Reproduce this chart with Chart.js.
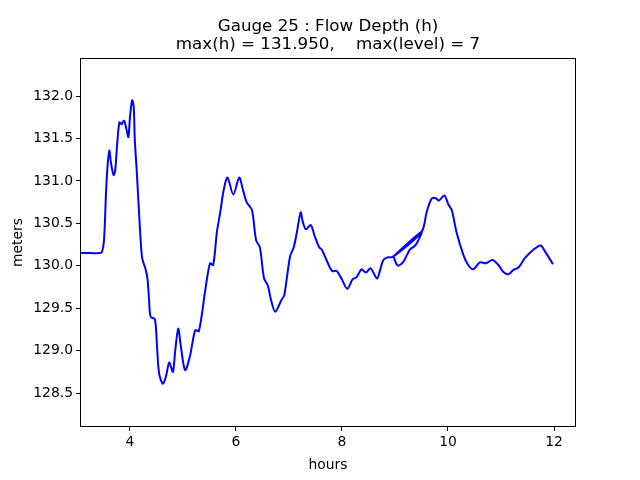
<!DOCTYPE html>
<html>
<head>
<meta charset="utf-8">
<script src="https://cdn.jsdelivr.net/npm/chart.js@4/dist/chart.umd.min.js"></script>
<style>
  html,body{margin:0;padding:0;background:#fff;}
  #wrap{width:640px;height:480px;}
</style>
</head>
<body>
<div id="wrap"><canvas id="gauge" width="640" height="480"></canvas></div>
<script>
// gauge 25 record, hours vs flow depth
// note the run restarts near 9.5 h and goes back to ~8.97 h
const hours=[3.06,3.25,3.43,3.47,3.51,3.55,3.58,3.61,3.64,3.69,3.72,3.76,3.80,3.84,3.86,3.89,3.93,3.97,4.00,4.04,4.07,4.09,4.13,4.19,4.23,4.29,4.33,4.36,4.39,4.47,4.51,4.55,4.62,4.68,4.74,4.81,4.85,4.91,4.96,5.04,5.13,5.23,5.30,5.42,5.51,5.57,5.64,5.70,5.77,5.84,5.95,6.06,6.13,6.20,6.30,6.38,6.45,6.53,6.60,6.66,6.74,6.86,6.91,7.02,7.09,7.15,7.22,7.26,7.32,7.41,7.49,7.57,7.62,7.70,7.81,7.90,7.99,8.10,8.20,8.28,8.37,8.45,8.54,8.66,8.72,8.78,8.86,8.94,8.97,9.02,9.06,9.16,9.28,9.38,9.44,9.50,8.97,9.50,9.60,9.69,9.76,9.83,9.93,10.01,10.07,10.16,10.29,10.38,10.48,10.60,10.72,10.84,10.95,11.04,11.14,11.23,11.33,11.45,11.61,11.75,11.83,11.98];
const depth=[130.15,130.15,130.15,130.16,130.30,130.89,131.20,131.36,131.22,131.07,131.12,131.45,131.69,131.67,131.69,131.71,131.62,131.52,131.75,131.95,131.88,131.50,131.09,130.42,130.09,129.97,129.85,129.60,129.40,129.37,129.05,128.73,128.61,128.70,128.86,128.75,128.98,129.26,129.05,128.77,128.93,129.24,129.23,129.71,130.03,130.01,130.40,130.62,130.90,131.04,130.84,131.04,130.90,130.75,130.66,130.30,130.22,129.85,129.77,129.60,129.46,129.60,129.65,130.11,130.22,130.40,130.63,130.52,130.43,130.48,130.34,130.22,130.19,130.08,129.94,129.94,129.85,129.73,129.84,129.87,129.96,129.92,129.97,129.85,129.95,130.07,130.10,130.10,130.11,130.03,130.00,130.05,130.19,130.24,130.30,130.40,130.11,130.40,130.64,130.79,130.80,130.77,130.83,130.72,130.66,130.40,130.13,130.01,129.96,130.04,130.03,130.07,130.01,129.93,129.90,129.95,129.98,130.09,130.19,130.24,130.17,130.02];

const xTicks=[4,6,8,10,12];
const yTicks=[128.5,129.0,129.5,130.0,130.5,131.0,131.5,132.0];
const titleLines=['Gauge 25 : Flow Depth (h)','max(h) = 131.950,    max(level) = 7'];

let pts=[];
for(let i=0;i<hours.length;i++){
  pts.push({x:hours[i],y:depth[i]});
}

const FONT='"DejaVu Sans", sans-serif';

// box round the plot area, like matplotlib spines, plus the two-line title
const frame={
  id:'frame',
  afterDraw(chart){
    const a=chart.chartArea;
    const c=chart.ctx;
    c.save();
    c.strokeStyle='#000';
    c.lineWidth=1;
    c.strokeRect(Math.round(a.left)+0.5,Math.round(a.top)+0.5,Math.round(a.right-a.left)-1,Math.round(a.bottom-a.top)-1);
    c.fillStyle='#000';
    c.font='16.7px '+FONT;
    c.textAlign='center';
    c.textBaseline='middle';
    const cx=(a.left+a.right)/2;
    c.fillText(titleLines[0],cx,26.5);
    c.fillText(titleLines[1],cx,45);
    c.restore();
  }
};

new Chart('gauge',{
  type:'scatter',
  data:{
    datasets:[{
      data:pts,
      showLine:true,
      borderColor:'#0000ff',
      borderWidth:2,
      pointRadius:0,
      tension:0.3,
      fill:false
    }]
  },
  plugins:[frame],
  options:{
    responsive:false,
    animation:false,
    layout:{padding:{left:0,right:64,top:58,bottom:0}},
    plugins:{
      legend:{display:false},
      tooltip:{enabled:false},
      title:{display:false}
    },
    scales:{
      x:{
        type:'linear',
        min:3.057,
        max:12.415,
        afterFit(s){s.height=53;},
        afterBuildTicks(s){s.ticks=xTicks.map(v=>({value:v}));},
        grid:{display:true,drawOnChartArea:false,drawTicks:true,tickLength:4,color:'#000'},
        border:{display:false},
        ticks:{color:'#000',padding:3,maxRotation:0,font:{family:FONT,size:13.9},callback:v=>String(v)},
        title:{display:true,text:'hours',color:'#000',font:{family:FONT,size:13.9},padding:{top:0,bottom:6}}
      },
      y:{
        type:'linear',
        min:128.1,
        max:132.45,
        afterFit(s){s.width=80;},
        afterBuildTicks(s){s.ticks=yTicks.map(v=>({value:v}));},
        grid:{display:true,drawOnChartArea:false,drawTicks:true,tickLength:4,color:'#000'},
        border:{display:false},
        ticks:{color:'#000',padding:3,font:{family:FONT,size:13.9},callback:v=>v.toFixed(1)},
        title:{display:true,text:'meters',color:'#000',font:{family:FONT,size:13.9},padding:{top:10,bottom:0}}
      }
    }
  }
});
</script>
</body>
</html>
